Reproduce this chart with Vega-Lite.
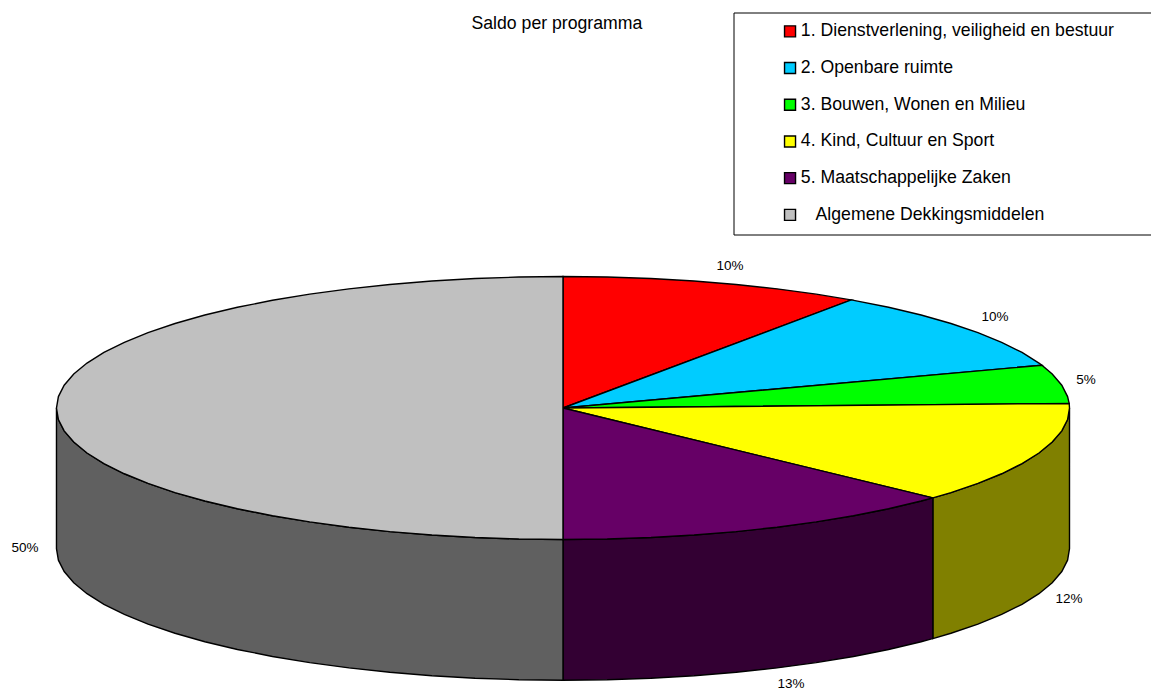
{"$schema":"https://vega.github.io/schema/vega-lite/v6.json","width":1151,"height":691,"autosize":{"type":"none"},"padding":0,"background":"white","config":{"view":{"stroke":null},"font":"Liberation Sans"},
"title":{"text":"Saldo per programma","anchor":"start","frame":"group","dx":471.5,"offset":-33,"fontSize":17.67,"fontWeight":"normal","font":"Liberation Sans","color":"#000000"},
"resolve":{"scale":{"fill":"independent"}},
"datasets":{
"sides":[
{"vlak":"4 zij","x":1,"y":0,"y2":-1.07},{"vlak":"4 zij","x":0.9962,"y":-0.0872,"y2":-1.1572},{"vlak":"4 zij","x":0.9848,"y":-0.1736,"y2":-1.2436},{"vlak":"4 zij","x":0.9659,"y":-0.2588,"y2":-1.3288},{"vlak":"4 zij","x":0.9397,"y":-0.342,"y2":-1.412},{"vlak":"4 zij","x":0.9063,"y":-0.4226,"y2":-1.4926},{"vlak":"4 zij","x":0.866,"y":-0.5,"y2":-1.57},{"vlak":"4 zij","x":0.8192,"y":-0.5736,"y2":-1.6436},{"vlak":"4 zij","x":0.766,"y":-0.6428,"y2":-1.7128},{"vlak":"4 zij","x":0.7302,"y":-0.6833,"y2":-1.7533},
{"vlak":"5 zij","x":0.7302,"y":-0.6833,"y2":-1.7533},{"vlak":"5 zij","x":0.7071,"y":-0.7071,"y2":-1.7771},{"vlak":"5 zij","x":0.6428,"y":-0.766,"y2":-1.836},{"vlak":"5 zij","x":0.5736,"y":-0.8192,"y2":-1.8892},{"vlak":"5 zij","x":0.5,"y":-0.866,"y2":-1.936},{"vlak":"5 zij","x":0.4226,"y":-0.9063,"y2":-1.9763},{"vlak":"5 zij","x":0.342,"y":-0.9397,"y2":-2.0097},{"vlak":"5 zij","x":0.2588,"y":-0.9659,"y2":-2.0359},{"vlak":"5 zij","x":0.1736,"y":-0.9848,"y2":-2.0548},{"vlak":"5 zij","x":0.0872,"y":-0.9962,"y2":-2.0662},{"vlak":"5 zij","x":0,"y":-1,"y2":-2.07},
{"vlak":"A zij","x":0,"y":-1,"y2":-2.07},{"vlak":"A zij","x":-0.0872,"y":-0.9962,"y2":-2.0662},{"vlak":"A zij","x":-0.1736,"y":-0.9848,"y2":-2.0548},{"vlak":"A zij","x":-0.2588,"y":-0.9659,"y2":-2.0359},{"vlak":"A zij","x":-0.342,"y":-0.9397,"y2":-2.0097},{"vlak":"A zij","x":-0.4226,"y":-0.9063,"y2":-1.9763},{"vlak":"A zij","x":-0.5,"y":-0.866,"y2":-1.936},{"vlak":"A zij","x":-0.5736,"y":-0.8192,"y2":-1.8892},{"vlak":"A zij","x":-0.6428,"y":-0.766,"y2":-1.836},{"vlak":"A zij","x":-0.7071,"y":-0.7071,"y2":-1.7771},{"vlak":"A zij","x":-0.766,"y":-0.6428,"y2":-1.7128},{"vlak":"A zij","x":-0.8192,"y":-0.5736,"y2":-1.6436},{"vlak":"A zij","x":-0.866,"y":-0.5,"y2":-1.57},{"vlak":"A zij","x":-0.9063,"y":-0.4226,"y2":-1.4926},{"vlak":"A zij","x":-0.9397,"y":-0.342,"y2":-1.412},{"vlak":"A zij","x":-0.9659,"y":-0.2588,"y2":-1.3288},{"vlak":"A zij","x":-0.9848,"y":-0.1736,"y2":-1.2436},{"vlak":"A zij","x":-0.9962,"y":-0.0872,"y2":-1.1572},{"vlak":"A zij","x":-1,"y":0,"y2":-1.07}],
"top":[
{"p":"1. Dienstverlening, veiligheid en bestuur","i":0,"x":0,"y":0},{"p":"1. Dienstverlening, veiligheid en bestuur","i":1,"x":0,"y":1},{"p":"1. Dienstverlening, veiligheid en bestuur","i":2,"x":0.0872,"y":0.9962},{"p":"1. Dienstverlening, veiligheid en bestuur","i":3,"x":0.1736,"y":0.9848},{"p":"1. Dienstverlening, veiligheid en bestuur","i":4,"x":0.2588,"y":0.9659},{"p":"1. Dienstverlening, veiligheid en bestuur","i":5,"x":0.342,"y":0.9397},{"p":"1. Dienstverlening, veiligheid en bestuur","i":6,"x":0.4226,"y":0.9063},{"p":"1. Dienstverlening, veiligheid en bestuur","i":7,"x":0.5,"y":0.866},{"p":"1. Dienstverlening, veiligheid en bestuur","i":8,"x":0.5693,"y":0.8221},{"p":"1. Dienstverlening, veiligheid en bestuur","i":9,"x":0,"y":0},
{"p":"2. Openbare ruimte","i":0,"x":0,"y":0},{"p":"2. Openbare ruimte","i":1,"x":0.5693,"y":0.8221},{"p":"2. Openbare ruimte","i":2,"x":0.6428,"y":0.766},{"p":"2. Openbare ruimte","i":3,"x":0.7071,"y":0.7071},{"p":"2. Openbare ruimte","i":4,"x":0.766,"y":0.6428},{"p":"2. Openbare ruimte","i":5,"x":0.8192,"y":0.5736},{"p":"2. Openbare ruimte","i":6,"x":0.866,"y":0.5},{"p":"2. Openbare ruimte","i":7,"x":0.9063,"y":0.4226},{"p":"2. Openbare ruimte","i":8,"x":0.9397,"y":0.342},{"p":"2. Openbare ruimte","i":9,"x":0.9455,"y":0.3256},{"p":"2. Openbare ruimte","i":10,"x":0,"y":0},
{"p":"3. Bouwen, Wonen en Milieu","i":0,"x":0,"y":0},{"p":"3. Bouwen, Wonen en Milieu","i":1,"x":0.9455,"y":0.3256},{"p":"3. Bouwen, Wonen en Milieu","i":2,"x":0.9659,"y":0.2588},{"p":"3. Bouwen, Wonen en Milieu","i":3,"x":0.9848,"y":0.1736},{"p":"3. Bouwen, Wonen en Milieu","i":4,"x":0.9962,"y":0.0872},{"p":"3. Bouwen, Wonen en Milieu","i":5,"x":0.9994,"y":0.0349},{"p":"3. Bouwen, Wonen en Milieu","i":6,"x":0,"y":0},
{"p":"4. Kind, Cultuur en Sport","i":0,"x":0,"y":0},{"p":"4. Kind, Cultuur en Sport","i":1,"x":0.9994,"y":0.0349},{"p":"4. Kind, Cultuur en Sport","i":2,"x":1,"y":0},{"p":"4. Kind, Cultuur en Sport","i":3,"x":0.9962,"y":-0.0872},{"p":"4. Kind, Cultuur en Sport","i":4,"x":0.9848,"y":-0.1736},{"p":"4. Kind, Cultuur en Sport","i":5,"x":0.9659,"y":-0.2588},{"p":"4. Kind, Cultuur en Sport","i":6,"x":0.9397,"y":-0.342},{"p":"4. Kind, Cultuur en Sport","i":7,"x":0.9063,"y":-0.4226},{"p":"4. Kind, Cultuur en Sport","i":8,"x":0.866,"y":-0.5},{"p":"4. Kind, Cultuur en Sport","i":9,"x":0.8192,"y":-0.5736},{"p":"4. Kind, Cultuur en Sport","i":10,"x":0.766,"y":-0.6428},{"p":"4. Kind, Cultuur en Sport","i":11,"x":0.7302,"y":-0.6833},{"p":"4. Kind, Cultuur en Sport","i":12,"x":0,"y":0},
{"p":"5. Maatschappelijke Zaken","i":0,"x":0,"y":0},{"p":"5. Maatschappelijke Zaken","i":1,"x":0.7302,"y":-0.6833},{"p":"5. Maatschappelijke Zaken","i":2,"x":0.7071,"y":-0.7071},{"p":"5. Maatschappelijke Zaken","i":3,"x":0.6428,"y":-0.766},{"p":"5. Maatschappelijke Zaken","i":4,"x":0.5736,"y":-0.8192},{"p":"5. Maatschappelijke Zaken","i":5,"x":0.5,"y":-0.866},{"p":"5. Maatschappelijke Zaken","i":6,"x":0.4226,"y":-0.9063},{"p":"5. Maatschappelijke Zaken","i":7,"x":0.342,"y":-0.9397},{"p":"5. Maatschappelijke Zaken","i":8,"x":0.2588,"y":-0.9659},{"p":"5. Maatschappelijke Zaken","i":9,"x":0.1736,"y":-0.9848},{"p":"5. Maatschappelijke Zaken","i":10,"x":0.0872,"y":-0.9962},{"p":"5. Maatschappelijke Zaken","i":11,"x":0,"y":-1},{"p":"5. Maatschappelijke Zaken","i":12,"x":0,"y":0},
{"p":"Algemene Dekkingsmiddelen","i":0,"x":0,"y":0},{"p":"Algemene Dekkingsmiddelen","i":1,"x":0,"y":-1},{"p":"Algemene Dekkingsmiddelen","i":2,"x":-0.0872,"y":-0.9962},{"p":"Algemene Dekkingsmiddelen","i":3,"x":-0.1736,"y":-0.9848},{"p":"Algemene Dekkingsmiddelen","i":4,"x":-0.2588,"y":-0.9659},{"p":"Algemene Dekkingsmiddelen","i":5,"x":-0.342,"y":-0.9397},{"p":"Algemene Dekkingsmiddelen","i":6,"x":-0.4226,"y":-0.9063},{"p":"Algemene Dekkingsmiddelen","i":7,"x":-0.5,"y":-0.866},{"p":"Algemene Dekkingsmiddelen","i":8,"x":-0.5736,"y":-0.8192},{"p":"Algemene Dekkingsmiddelen","i":9,"x":-0.6428,"y":-0.766},{"p":"Algemene Dekkingsmiddelen","i":10,"x":-0.7071,"y":-0.7071},{"p":"Algemene Dekkingsmiddelen","i":11,"x":-0.766,"y":-0.6428},{"p":"Algemene Dekkingsmiddelen","i":12,"x":-0.8192,"y":-0.5736},{"p":"Algemene Dekkingsmiddelen","i":13,"x":-0.866,"y":-0.5},{"p":"Algemene Dekkingsmiddelen","i":14,"x":-0.9063,"y":-0.4226},{"p":"Algemene Dekkingsmiddelen","i":15,"x":-0.9397,"y":-0.342},{"p":"Algemene Dekkingsmiddelen","i":16,"x":-0.9659,"y":-0.2588},{"p":"Algemene Dekkingsmiddelen","i":17,"x":-0.9848,"y":-0.1736},{"p":"Algemene Dekkingsmiddelen","i":18,"x":-0.9962,"y":-0.0872},{"p":"Algemene Dekkingsmiddelen","i":19,"x":-1,"y":0},{"p":"Algemene Dekkingsmiddelen","i":20,"x":-0.9962,"y":0.0872},{"p":"Algemene Dekkingsmiddelen","i":21,"x":-0.9848,"y":0.1736},{"p":"Algemene Dekkingsmiddelen","i":22,"x":-0.9659,"y":0.2588},{"p":"Algemene Dekkingsmiddelen","i":23,"x":-0.9397,"y":0.342},{"p":"Algemene Dekkingsmiddelen","i":24,"x":-0.9063,"y":0.4226},{"p":"Algemene Dekkingsmiddelen","i":25,"x":-0.866,"y":0.5},{"p":"Algemene Dekkingsmiddelen","i":26,"x":-0.8192,"y":0.5736},{"p":"Algemene Dekkingsmiddelen","i":27,"x":-0.766,"y":0.6428},{"p":"Algemene Dekkingsmiddelen","i":28,"x":-0.7071,"y":0.7071},{"p":"Algemene Dekkingsmiddelen","i":29,"x":-0.6428,"y":0.766},{"p":"Algemene Dekkingsmiddelen","i":30,"x":-0.5736,"y":0.8192},{"p":"Algemene Dekkingsmiddelen","i":31,"x":-0.5,"y":0.866},{"p":"Algemene Dekkingsmiddelen","i":32,"x":-0.4226,"y":0.9063},{"p":"Algemene Dekkingsmiddelen","i":33,"x":-0.342,"y":0.9397},{"p":"Algemene Dekkingsmiddelen","i":34,"x":-0.2588,"y":0.9659},{"p":"Algemene Dekkingsmiddelen","i":35,"x":-0.1736,"y":0.9848},{"p":"Algemene Dekkingsmiddelen","i":36,"x":-0.0872,"y":0.9962},{"p":"Algemene Dekkingsmiddelen","i":37,"x":0,"y":1},{"p":"Algemene Dekkingsmiddelen","i":38,"x":0,"y":0}],
"labels":[
{"programma":"1. Dienstverlening, veiligheid en bestuur","procent":0.10,"lx":0.3297,"ly":1.0798},
{"programma":"2. Openbare ruimte","procent":0.10,"lx":0.8529,"ly":0.692},
{"programma":"3. Bouwen, Wonen en Milieu","procent":0.05,"lx":1.0326,"ly":0.2129},
{"programma":"4. Kind, Cultuur en Sport","procent":0.12,"lx":0.999,"ly":-1.4525},
{"programma":"5. Maatschappelijke Zaken","procent":0.13,"lx":0.4501,"ly":-2.099},
{"programma":"Algemene Dekkingsmiddelen","procent":0.50,"lx":-1.0622,"ly":-1.0646}]},
"layer":[
{"data":{"name":"sides"},"mark":{"type":"area","stroke":"#000000","strokeWidth":1.4,"opacity":1},
"encoding":{"x":{"field":"x","type":"quantitative","scale":{"domain":[-1.1115,1.1609],"nice":false,"zero":false},"axis":null},"y":{"field":"y","type":"quantitative","scale":{"domain":[-2.152,3.103],"nice":false,"zero":false},"axis":null},"y2":{"field":"y2"},
"fill":{"field":"vlak","type":"nominal","scale":{"domain":["4 zij","5 zij","A zij"],"range":["#808000","#330033","#606060"]},"legend":null}}},
{"data":{"name":"top"},"mark":{"type":"line","filled":true,"stroke":"#000000","strokeWidth":1.4,"opacity":1},
"encoding":{"x":{"field":"x","type":"quantitative","scale":{"domain":[-1.1115,1.1609],"nice":false,"zero":false},"axis":null},"y":{"field":"y","type":"quantitative","scale":{"domain":[-2.152,3.103],"nice":false,"zero":false},"axis":null},"order":{"field":"i","type":"ordinal"},
"fill":{"field":"p","type":"nominal","scale":{"domain":["1. Dienstverlening, veiligheid en bestuur","2. Openbare ruimte","3. Bouwen, Wonen en Milieu","4. Kind, Cultuur en Sport","5. Maatschappelijke Zaken","Algemene Dekkingsmiddelen"],"range":["#FF0000","#00CCFF","#00FF00","#FFFF00","#660066","#C0C0C0"]},
"legend":{"title":null,"orient":"none","legendX":733.5,"legendY":12.5,"symbolType":"square","symbolSize":121,"symbolStrokeColor":"#000000","symbolStrokeWidth":1.4,"symbolOpacity":1,"symbolOffset":37.7,"labelOffset":2,"labelFont":"Liberation Sans","labelFontSize":17.67,"labelColor":"#000000","labelLimit":600,"rowPadding":17.7,"padding":10,"strokeColor":"#000000","fillColor":"#FFFFFF",
"labelExpr":"(indexof(datum.label,'Algemene')==0?'\u200b\u00a0\u00a0\u00a0':'')+datum.label+'\u00a0\u00a0\u00a0\u00a0\u00a0\u00a0\u00a0\u200b'"}}}},
{"data":{"name":"labels"},"mark":{"type":"text","font":"Liberation Sans","fontSize":13.5,"color":"#000000","align":"center","baseline":"middle"},
"encoding":{"x":{"field":"lx","type":"quantitative","scale":{"domain":[-1.1115,1.1609],"nice":false,"zero":false},"axis":null},"y":{"field":"ly","type":"quantitative","scale":{"domain":[-2.152,3.103],"nice":false,"zero":false},"axis":null},"text":{"field":"procent","type":"quantitative","format":".0%"}}}
]}
